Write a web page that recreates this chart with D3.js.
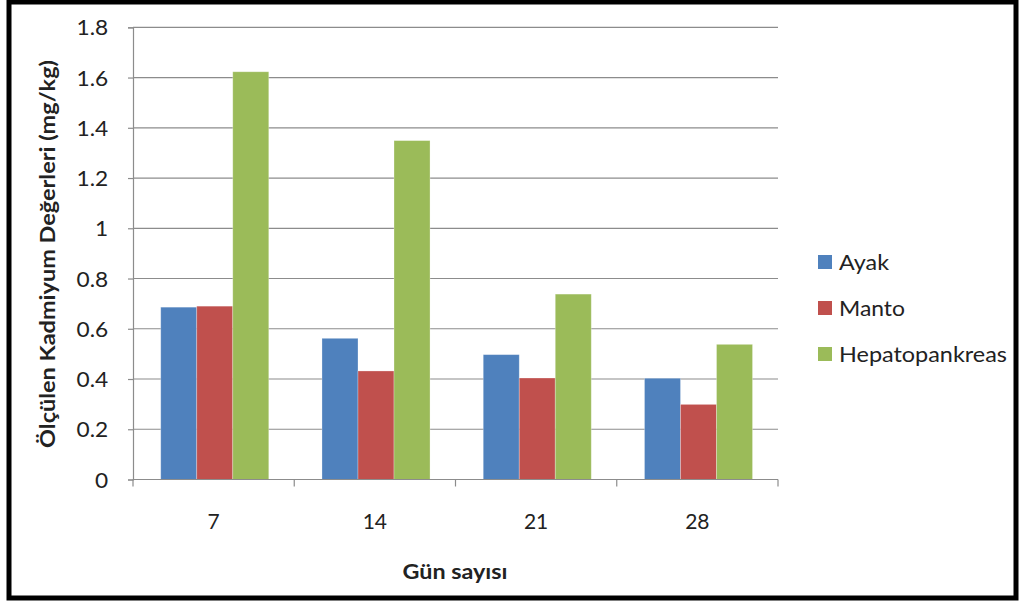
<!DOCTYPE html>
<html><head><meta charset="utf-8">
<script src="https://cdn.jsdelivr.net/npm/d3@7"></script>
<style>
html,body{margin:0;padding:0;background:#fff;}
svg{display:block;}
text{font-family:Lato,"Open Sans",sans-serif;fill:#222;}
</style></head>
<body>
<svg id="c" width="1020" height="601"></svg>
<script>
const categories = ["7", "14", "21", "28"];
const seriesNames = ["Ayak", "Manto", "Hepatopankreas"];
const ayak = [0.686, 0.562, 0.497, 0.403];
const manto = [0.690, 0.432, 0.404, 0.299];
const hepatopankreas = [1.623, 1.349, 0.738, 0.538];
const yTicks = [0, 0.2, 0.4, 0.6, 0.8, 1, 1.2, 1.4, 1.6, 1.8];
const colors = ["#4F81BD", "#C0504D", "#9BBB59"];
const yTitle = "Ölçülen Kadmiyum Değerleri (mg/kg)";
const xTitle = "Gün sayısı";

const seriesValues = [ayak, manto, hepatopankreas];
const svg = d3.select("#c");

// frame
svg.append("rect").attr("x", 9).attr("y", 2).attr("width", 1007).attr("height", 596)
  .attr("fill", "#fff").attr("stroke", "#000").attr("stroke-width", 5);

const L = 133, R = 778, T = 27.3, B = 479.5;
const x0 = d3.scaleBand().domain(categories).range([L, R]).padding(0);
const bw = x0.bandwidth();
const x1 = d3.scaleBand().domain(seriesNames).range([bw * 0.172, bw * 0.842]).padding(0);
const y = d3.scaleLinear().domain([0, 1.8]).range([B, T]);

// gridlines
svg.append("g").selectAll("line").data(yTicks.filter(d => d > 0)).join("line")
  .attr("x1", L).attr("x2", R).attr("y1", d => y(d)).attr("y2", d => y(d))
  .attr("stroke", "#8c8c8c").attr("stroke-width", 1.2);

// bars
const g = svg.append("g");
categories.forEach((c, i) => {
  seriesNames.forEach((s, j) => {
    const v = seriesValues[j][i];
    g.append("rect")
      .attr("x", x0(c) + x1(s)).attr("width", x1.bandwidth())
      .attr("y", y(v)).attr("height", B - y(v))
      .attr("fill", colors[j])
      .attr("stroke", "rgba(255,255,255,0.35)").attr("stroke-width", 0.8);
  });
});

// y axis
const yAxis = d3.axisLeft(y).tickValues(yTicks).tickSize(5).tickPadding(18)
  .tickFormat(d => d3.format("")(+d.toFixed(1)));
const ya = svg.append("g").attr("transform", `translate(${L},0)`).call(yAxis);
ya.select(".domain").attr("stroke", "#8c8c8c").attr("stroke-width", 1.2);
ya.selectAll(".tick line").attr("stroke", "#8c8c8c").attr("stroke-width", 1.2);
ya.selectAll(".tick text").attr("font-size", 21).attr("fill", "#222")
  .attr("font-family", "Lato, sans-serif").attr("dy", "0.36em")
  .attr("transform", "scale(1.08,1)");

// x axis
const xa = svg.append("g").attr("transform", `translate(0,${B})`);
xa.append("line").attr("x1", L).attr("x2", R).attr("y1", 0).attr("y2", 0)
  .attr("stroke", "#8c8c8c").attr("stroke-width", 1.2);
const bounds = categories.map(c => x0(c)).concat([R]);
xa.selectAll("line.tk").data(bounds).join("line").attr("class", "tk")
  .attr("x1", d => d).attr("x2", d => d).attr("y1", 0).attr("y2", 7)
  .attr("stroke", "#8c8c8c").attr("stroke-width", 1.2);
xa.selectAll("text.lbl").data(categories).join("text").attr("class", "lbl")
  .attr("x", d => x0(d) + bw / 2).attr("y", 49)
  .attr("text-anchor", "middle").attr("font-size", 21).text(d => d);

// axis titles
svg.append("text").attr("transform", "translate(55,254) rotate(-90)")
  .attr("text-anchor", "middle").attr("font-size", 21).attr("font-weight", "bold")
  .attr("textLength", 388).attr("lengthAdjust", "spacingAndGlyphs")
  .text(yTitle);
svg.append("text").attr("x", 455).attr("y", 579).attr("text-anchor", "middle")
  .attr("font-size", 21).attr("font-weight", "bold")
  .attr("textLength", 105).attr("lengthAdjust", "spacingAndGlyphs").text(xTitle);

// legend
const lg = svg.append("g");
const legendLen = [50, 66, 168];
seriesNames.forEach((s, j) => {
  const cy = 262 + j * 46;
  lg.append("rect").attr("x", 818).attr("y", cy - 7).attr("width", 14).attr("height", 14)
    .attr("fill", colors[j]);
  lg.append("text").attr("x", 839).attr("y", cy).attr("dy", "0.36em")
    .attr("font-size", 22).attr("textLength", legendLen[j])
    .attr("lengthAdjust", "spacingAndGlyphs").text(s);
});
</script>
</body></html>
